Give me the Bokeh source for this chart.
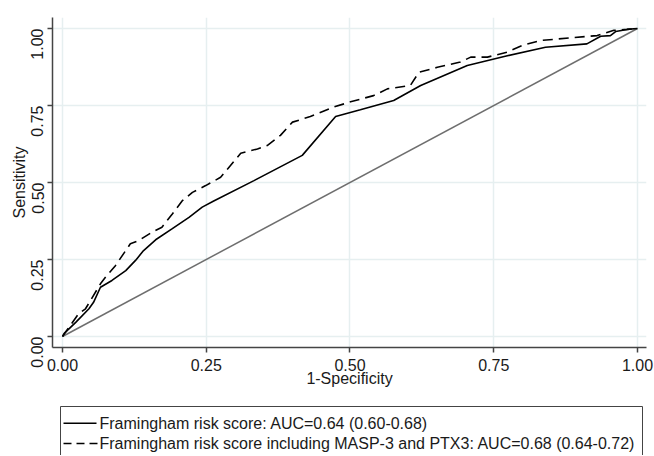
import math
from bokeh.plotting import figure
from bokeh.layouts import column
from bokeh.models import Range1d, FixedTicker, NumeralTickFormatter
from bokeh.core.properties import value
from bokeh.embed import file_html
from bokeh.resources import INLINE

# Framingham risk score ROC (1-specificity, sensitivity)
frs_fpr = [0, 0.003, 0.023, 0.046, 0.054, 0.066, 0.086, 0.11, 0.127, 0.141, 0.162, 0.191,
           0.22, 0.243, 0.263, 0.333, 0.417, 0.475, 0.518, 0.576, 0.623, 0.704, 0.77, 0.84,
           0.912, 0.936, 0.953, 0.962, 0.982, 1.0]
frs_tpr = [0, 0.01, 0.046, 0.09, 0.111, 0.16, 0.182, 0.214, 0.247, 0.279, 0.314, 0.35,
           0.387, 0.42, 0.44, 0.506, 0.588, 0.714, 0.736, 0.766, 0.815, 0.88, 0.91, 0.939,
           0.95, 0.975, 0.977, 0.99, 0.997, 1.0]

# Framingham + MASP-3 + PTX3 ROC
ext_fpr = [0, 0.028, 0.04, 0.066, 0.075, 0.092, 0.118, 0.133, 0.156, 0.173, 0.191, 0.208,
           0.226, 0.249, 0.275, 0.31, 0.339, 0.356, 0.379, 0.4, 0.431, 0.472, 0.501, 0.541,
           0.565, 0.605, 0.62, 0.652, 0.692, 0.71, 0.739, 0.773, 0.80, 0.831, 0.93, 0.959,
           0.982, 1.0]
ext_tpr = [0, 0.074, 0.09, 0.171, 0.193, 0.23, 0.301, 0.312, 0.339, 0.355, 0.398, 0.44,
           0.468, 0.49, 0.517, 0.595, 0.609, 0.62, 0.653, 0.696, 0.714, 0.745, 0.762, 0.782,
           0.804, 0.815, 0.858, 0.874, 0.891, 0.907, 0.907, 0.923, 0.945, 0.961, 0.977, 0.994,
           0.997, 1.0]

ref_x = [0, 1]
ref_y = [0, 1]

ticks = [0, 0.25, 0.5, 0.75, 1.0]
legend_labels = ["Framingham risk score: AUC=0.64 (0.60-0.68)",
                 "Framingham risk score including MASP-3 and PTX3: AUC=0.68 (0.64-0.72)"]
x_title = "1-Specificity"
y_title = "Sensitivity"

FONT = "Liberation Sans"
TXT = "#1a1a1a"
DASH = "10 6"

p = figure(width=654, height=400, output_backend="svg", toolbar_location=None,
           x_range=Range1d(-0.0174, 1.0157), y_range=Range1d(-0.0357, 1.0357),
           min_border_left=52, min_border_right=8, min_border_top=17, min_border_bottom=53,
           background_fill_color="white", border_fill_color="white")
p.outline_line_color = None

for ax in (p.xaxis[0], p.yaxis[0]):
    ax.ticker = FixedTicker(ticks=ticks)
    ax.formatter = NumeralTickFormatter(format="0.00")
    ax.axis_line_color = "#444444"
    ax.axis_line_width = 1.5
    ax.major_tick_line_color = "#444444"
    ax.major_tick_line_width = 1.5
    ax.major_tick_out = 5
    ax.major_tick_in = 0
    ax.minor_tick_line_color = None
    ax.major_label_text_font = FONT
    ax.major_label_text_font_size = "16px"
    ax.major_label_text_color = TXT
    ax.axis_label_text_font = FONT
    ax.axis_label_text_font_size = "16px"
    ax.axis_label_text_font_style = "normal"
    ax.axis_label_text_color = TXT

p.xaxis.axis_label = x_title
p.yaxis.axis_label = y_title
p.xaxis.major_label_standoff = 6
p.yaxis.major_label_standoff = 10
p.xaxis.axis_label_standoff = -4
p.yaxis.axis_label_standoff = -5
p.yaxis.major_label_orientation = math.pi / 2

for g in (p.xgrid[0], p.ygrid[0]):
    g.ticker = FixedTicker(ticks=ticks)
    g.grid_line_color = "#e6eff0"
    g.grid_line_width = 1.5

p.line(ref_x, ref_y, line_color="#6e6e6e", line_width=1.5)
p.line(frs_fpr, frs_tpr, line_color="black", line_width=1.6)
p.line(ext_fpr, ext_tpr, line_color="black", line_width=1.6, line_dash=DASH)

# legend panel underneath; its frame is aligned with the main frame (x from frame left, y from bottom)
q = figure(width=654, height=55, output_backend="svg", toolbar_location=None,
           x_range=Range1d(0, 594), y_range=Range1d(0, 55),
           x_axis_location=None, y_axis_location=None,
           min_border_left=52, min_border_right=8, min_border_top=0, min_border_bottom=0,
           background_fill_color="white", border_fill_color="white")
q.outline_line_color = None
q.grid.visible = False

q.quad(left=[8], right=[590], bottom=[-6], top=[49], fill_color="white",
       line_color="#444444", line_width=1)
q.line([11, 44], [32.3, 32.3], line_color="black", line_width=1.6)
q.line([11, 45], [12, 12], line_color="black", line_width=1.6, line_dash="8 5")
q.text(x=[47, 47], y=[32.3, 12], text=legend_labels, text_baseline="middle",
       text_align="left", text_font=value(FONT), text_font_size="16px", text_color=TXT)

layout = column(p, q, spacing=0)
open("out.html", "w").write(file_html(layout, INLINE))
